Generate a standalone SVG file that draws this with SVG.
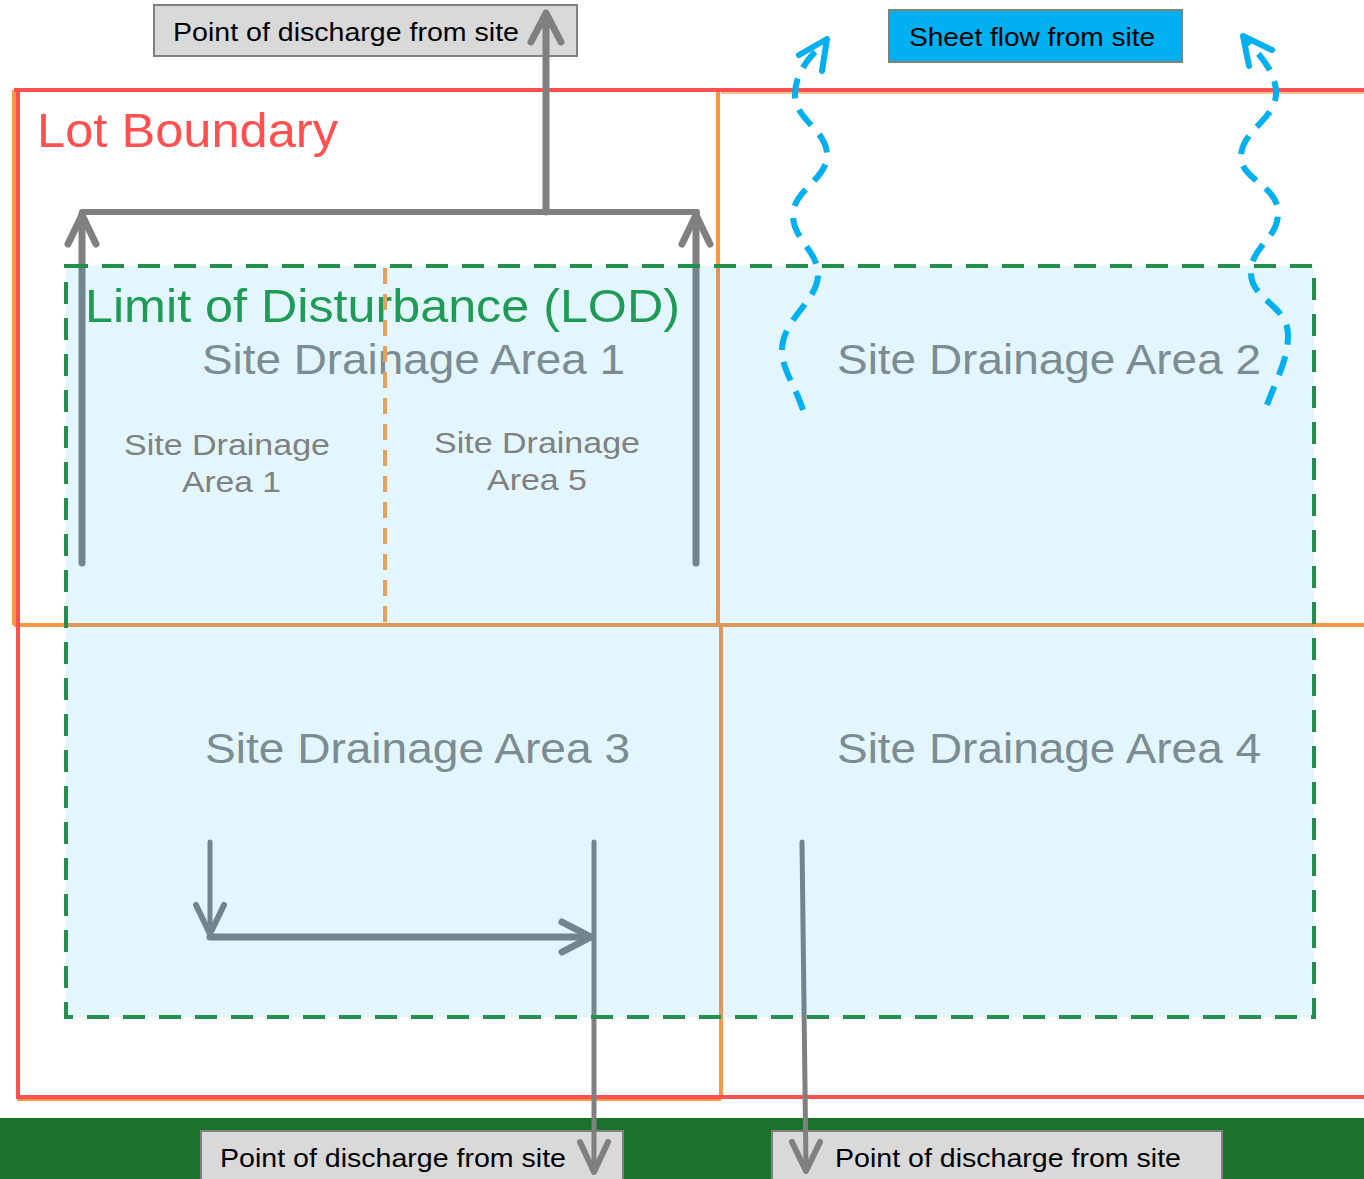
<svg xmlns="http://www.w3.org/2000/svg" width="1364" height="1179" viewBox="0 0 1364 1179">
<defs>
<style>
.t{font-family:"Liberation Sans",Arial,sans-serif}
.box{fill:#d9d9d9;stroke:#808080;stroke-width:2}
.btxt{font-size:26px;fill:#000}
.arr{fill:none;stroke:#808080;stroke-linecap:round;stroke-linejoin:round}
.area{font-size:42px;fill:#7b8c92}
.sub{font-size:30px;fill:#808080}
.wave{fill:none;stroke:#00b0f0;stroke-width:6;stroke-dasharray:20 12}
.head{fill:none;stroke:#00b0f0;stroke-width:6;stroke-linecap:round;stroke-linejoin:round}
.org{fill:none;stroke:#f79646;stroke-width:4}
</style>
</defs>
<rect width="1364" height="1179" fill="#ffffff"/>

<g id="parcels">
<path class="org" d="M14,90 V625 M718,90 V625 M721,625 V1099 M14,625 H1364 M17,1099 H721"/>
<path d="M721,93 H1364" fill="none" stroke="#f9c08f" stroke-width="2"/>
</g>

<g id="lot-boundary">
<path d="M1364,90 H14 M18,90 V1097 H1364" fill="none" stroke="#ff5050" stroke-width="4"/>
<text class="t" x="37" y="147" font-size="48" fill="#ff5050" textLength="301" lengthAdjust="spacingAndGlyphs">Lot Boundary</text>
</g>

<g id="ground">
<rect x="0" y="1118" width="1364" height="61" fill="#1b722b"/>
</g>

<g id="discharge-top">
<rect class="box" x="154" y="5" width="423" height="51"/>
<text class="t btxt" x="173" y="41" textLength="346" lengthAdjust="spacingAndGlyphs">Point of discharge from site</text>
</g>
<g id="discharge-bottom-1">
<rect class="box" x="201" y="1131" width="422" height="60"/>
<text class="t btxt" x="220" y="1167" textLength="346" lengthAdjust="spacingAndGlyphs">Point of discharge from site</text>
</g>
<g id="discharge-bottom-2">
<rect class="box" x="772" y="1131" width="450" height="60"/>
<text class="t btxt" x="835" y="1167" textLength="346" lengthAdjust="spacingAndGlyphs">Point of discharge from site</text>
</g>
<g id="sheet-flow">
<rect x="889" y="10" width="293" height="52" fill="#00b0f0" stroke="#808080" stroke-width="2"/>
<text class="t btxt" x="909" y="46" textLength="246" lengthAdjust="spacingAndGlyphs">Sheet flow from site</text>
</g>

<g id="connectors">
<path class="arr" stroke-width="7" d="M546,212 V14 M531,42 L546,13 L561,42"/>
<path class="arr" stroke-width="6" stroke-linecap="butt" d="M82,212 H697"/>
<path class="arr" stroke-width="7" stroke-linecap="butt" d="M82,563 V214"/>
<path class="arr" stroke-width="7" d="M68,244 L82,215 L96,244"/>
<path class="arr" stroke-width="7" stroke-linecap="butt" d="M696,563 V214"/>
<path class="arr" stroke-width="7" d="M682,244 L696,215 L710,244"/>
<path class="arr" stroke-width="5" stroke-linecap="butt" d="M210,842 V933"/>
<path class="arr" stroke-width="6" d="M196,905 L210,934 L224,905"/>
<path class="arr" stroke-width="7" stroke-linecap="butt" d="M210,937 H589"/>
<path class="arr" stroke-width="7" d="M562,922 L591,937 L562,952"/>
<path class="arr" stroke-width="5" stroke-linecap="butt" d="M594,842 V1170"/>
<path class="arr" stroke-width="6" d="M580,1142 L594,1172 L608,1142"/>
<path class="arr" stroke-width="5" stroke-linecap="butt" d="M802,842 L806,1168"/>
<path class="arr" stroke-width="6" d="M792,1142 L806,1171 L820,1142"/>
</g>

<g id="lod">
<rect x="66" y="266" width="1248" height="751" fill="#00b0f0" fill-opacity="0.11"/>
<rect x="66" y="266" width="1248" height="751" fill="none" stroke="#248f4c" stroke-width="4" stroke-dasharray="22 14"/>
<text class="t" x="85" y="322" font-size="47" fill="#1f9b56" textLength="595" lengthAdjust="spacingAndGlyphs">Limit of Disturbance (LOD)</text>
</g>

<g id="area-1">
<text class="t area" x="202" y="374" textLength="423" lengthAdjust="spacingAndGlyphs">Site Drainage Area 1</text>
</g>
<g id="area-2">
<text class="t area" x="837" y="374" textLength="424" lengthAdjust="spacingAndGlyphs">Site Drainage Area 2</text>
</g>
<g id="area-3">
<text class="t area" x="205" y="763" textLength="425" lengthAdjust="spacingAndGlyphs">Site Drainage Area 3</text>
</g>
<g id="area-4">
<text class="t area" x="837" y="763" textLength="424" lengthAdjust="spacingAndGlyphs">Site Drainage Area 4</text>
</g>
<g id="sub-area-1">
<text class="t sub" x="124" y="455" textLength="206" lengthAdjust="spacingAndGlyphs">Site Drainage</text>
<text class="t sub" x="182" y="492" textLength="99" lengthAdjust="spacingAndGlyphs">Area 1</text>
</g>
<g id="sub-area-5">
<text class="t sub" x="434" y="453" textLength="206" lengthAdjust="spacingAndGlyphs">Site Drainage</text>
<text class="t sub" x="487" y="490" textLength="100" lengthAdjust="spacingAndGlyphs">Area 5</text>
</g>

<g id="sub-divider">
<path d="M385,268 V622" fill="none" stroke="#e6a05c" stroke-width="4" stroke-dasharray="16 10"/>
</g>

<g id="sheet-flow-arrows">
<path class="wave" d="M803,410 C795,385 782,370 782,350 C782,320 818,300 818,275 C818,250 793,240 793,215 C793,190 827,180 827,155 C827,130 795,120 795,95 C795,72 810,56 825,42"/>
<path class="head" d="M799,55 L827,39 L822,71"/>
<path class="wave" d="M1267,405 C1276,380 1288,360 1288,335 C1288,305 1251,300 1251,273 C1251,245 1278,240 1278,213 C1278,185 1241,180 1241,157 C1241,130 1276,120 1276,93 C1276,72 1260,55 1246,40"/>
<path class="head" d="M1249,66 L1243,36 L1272,50"/>
</g>
</svg>
